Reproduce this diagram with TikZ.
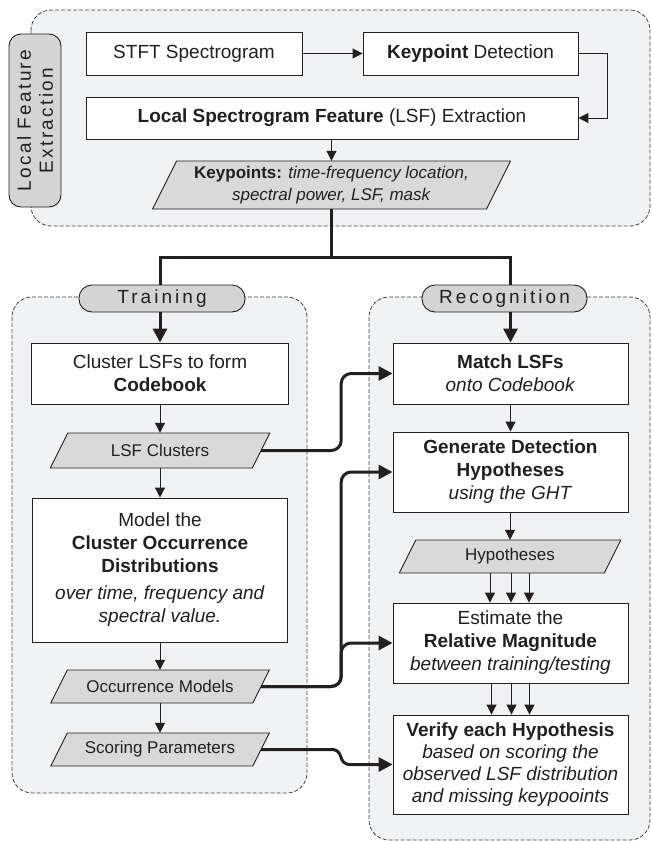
\documentclass[tikz,border=0pt]{standalone}
\usepackage{fontspec}
\setmainfont{Liberation Sans}
\usetikzlibrary{arrows.meta,calc}
\definecolor{ink}{HTML}{231F20}
\definecolor{bg}{HTML}{F1F2F4}
\definecolor{parafill}{HTML}{D9D9D9}
\definecolor{pillfill}{HTML}{D4D4D4}
\definecolor{dashc}{HTML}{444444}
\tikzset{
 cont/.style={draw=dashc, fill=bg, dash pattern=on 4pt off 2pt, line width=0.8pt, rounded corners=20pt},
 box/.style={draw=ink, fill=white, line width=0.9pt, align=center, inner sep=0pt, font=\fontsize{19}{23}\selectfont, text=ink},
 paratext/.style={align=center, inner sep=0pt, font=\fontsize{17}{22}\selectfont, text=ink},
 parashape/.style={draw=ink, fill=parafill, line width=0.9pt},
 pill/.style={draw=ink, fill=pillfill, line width=0.9pt, rounded corners=13pt, align=center, inner sep=0pt, font=\fontsize{19}{22}\selectfont\addfontfeature{LetterSpace=16}, text=ink},
 arr/.style={draw=ink, line width=1pt, -{Triangle[length=10pt,width=10pt]}},
 thk/.style={draw=ink, line width=3pt},
 thkarr/.style={thk, -{Triangle[length=14pt,width=14pt]}},
}
\newcommand\paranode[6]{%
 \filldraw[parashape] ({#2-#4/2+#5/4},{#3-#5/2}) -- ({#2+#4/2+#5/4},{#3-#5/2}) -- ({#2+#4/2-#5/4},{#3+#5/2}) -- ({#2-#4/2-#5/4},{#3+#5/2}) -- cycle;
 \node[paratext, minimum width=#4pt, minimum height=#5pt] (#1) at (#2,#3) {#6};}
\begin{document}
\begin{tikzpicture}[x=1pt,y=-1pt]
\useasboundingbox (0,0) rectangle (651,841);
% containers
\draw[cont] (31,10) rectangle (650,226);
\draw[cont] (12,297) rectangle (307,793);
\draw[cont] (369,297) rectangle (650,840);
% local feature extraction
\node[pill, rounded corners=12pt, rotate=90, minimum width=173pt, minimum height=52pt,
      font=\fontsize{19}{22}\selectfont\addfontfeature{LetterSpace=12}] (lfe) at (35,120.5) {Local Feature\\Extraction};
\node[box, minimum width=216pt, minimum height=43pt] (stft) at (194,53.5) {STFT Spectrogram};
\node[box, minimum width=215pt, minimum height=43pt] (kd) at (470.5,53.5) {\textbf{Keypoint} Detection};
\node[box, minimum width=492pt, minimum height=42pt] (lsf) at (332,118) {\textbf{Local Spectrogram Feature} (LSF) Extraction};
\paranode{kp}{331.5}{185}{334}{48}{\textbf{Keypoints:} \textit{time-frequency location,}\\\textit{spectral power, LSF, mask}}
% pills
\node[pill, minimum width=166pt, minimum height=27pt] (train) at (162,298.5) {Training};
\node[pill, minimum width=165pt, minimum height=27pt] (recog) at (504.5,298.5) {Recognition};
% training
\node[box, minimum width=257pt, minimum height=61pt] (cluster) at (160,373.5) {Cluster LSFs to form\\\textbf{Codebook}};
\paranode{lsfc}{160}{450.5}{202}{35}{LSF Clusters}
\node[box, minimum width=255pt, minimum height=144pt] (model) at (160,570) {Model the\\\textbf{Cluster Occurrence}\\\textbf{Distributions}\\[4pt]\textit{over time, frequency and}\\\textit{spectral value.}};
\paranode{occ}{160}{686.5}{202}{33}{Occurrence Models}
\paranode{score}{160}{749.5}{202}{33}{Scoring Parameters}
% recognition
\node[box, minimum width=235pt, minimum height=61pt] (match) at (510.5,373.5) {\textbf{Match LSFs}\\\textit{onto Codebook}};
\node[box, minimum width=235pt, minimum height=80pt] (gen) at (510.5,472) {\textbf{Generate Detection}\\\textbf{Hypotheses}\\\textit{using the GHT}};
\paranode{hyp}{510}{556.5}{205}{33}{Hypotheses}
\node[box, minimum width=235pt, minimum height=80pt] (est) at (510.5,643) {Estimate the\\\textbf{Relative Magnitude}\\\textit{between training/testing}};
\node[box, minimum width=235pt, minimum height=99pt, font=\fontsize{19}{22}\selectfont] (verify) at (510.5,764.5) {\textbf{Verify each Hypothesis}\\\textit{based on scoring the}\\\textit{observed LSF distribution}\\\textit{and missing keypooints}};
% thin connectors
\draw[arr] (stft) -- (kd);
\draw[arr] (kd.east) -- ++(29,0) |- (lsf.east);
\draw[arr] (lsf.south -| kp.north) -- (kp.north);
\draw[arr] (cluster) -- (lsfc);
\draw[arr] (lsfc) -- (model);
\draw[arr] (model) -- (occ);
\draw[arr] (occ) -- (score);
\draw[arr] (match) -- (gen);
\draw[arr] (gen.south -| hyp.north) -- (hyp.north);
\foreach \dx in {-20,1,19} \draw[arr] ([xshift=\dx pt]hyp.south) -- ([xshift=\dx pt]hyp.south |- est.north);
\foreach \dx in {-19,1,19} \draw[arr] ([xshift=\dx pt]est.south) -- ([xshift=\dx pt]verify.north);
% thick connectors
\draw[thk] (kp.south) -- ++(0,48) -| (cluster.north |- train.north);
\draw[thk] (kp.south) -- ++(0,48) -| (match.north |- recog.north);
\draw[thkarr] (cluster.north |- train.south) -- (cluster.north);
\draw[thkarr] (match.north |- recog.south) -- (match.north);
\draw[thkarr, rounded corners=10pt] (lsfc.east) -- ++(80,0) |- (match.west);
\draw[thkarr, rounded corners=10pt] (occ.east) -- ++(80,0) |- (gen.west);
\draw[thkarr, rounded corners=10pt] (occ.east) -- ++(80,0) |- (est.west);
\draw[thkarr] (score.east) -- ++(70,0) .. controls +(14,0) and +(-14,0) .. ($(verify.west)+(-42,0)$) -- (verify.west);
\end{tikzpicture}
\end{document}
